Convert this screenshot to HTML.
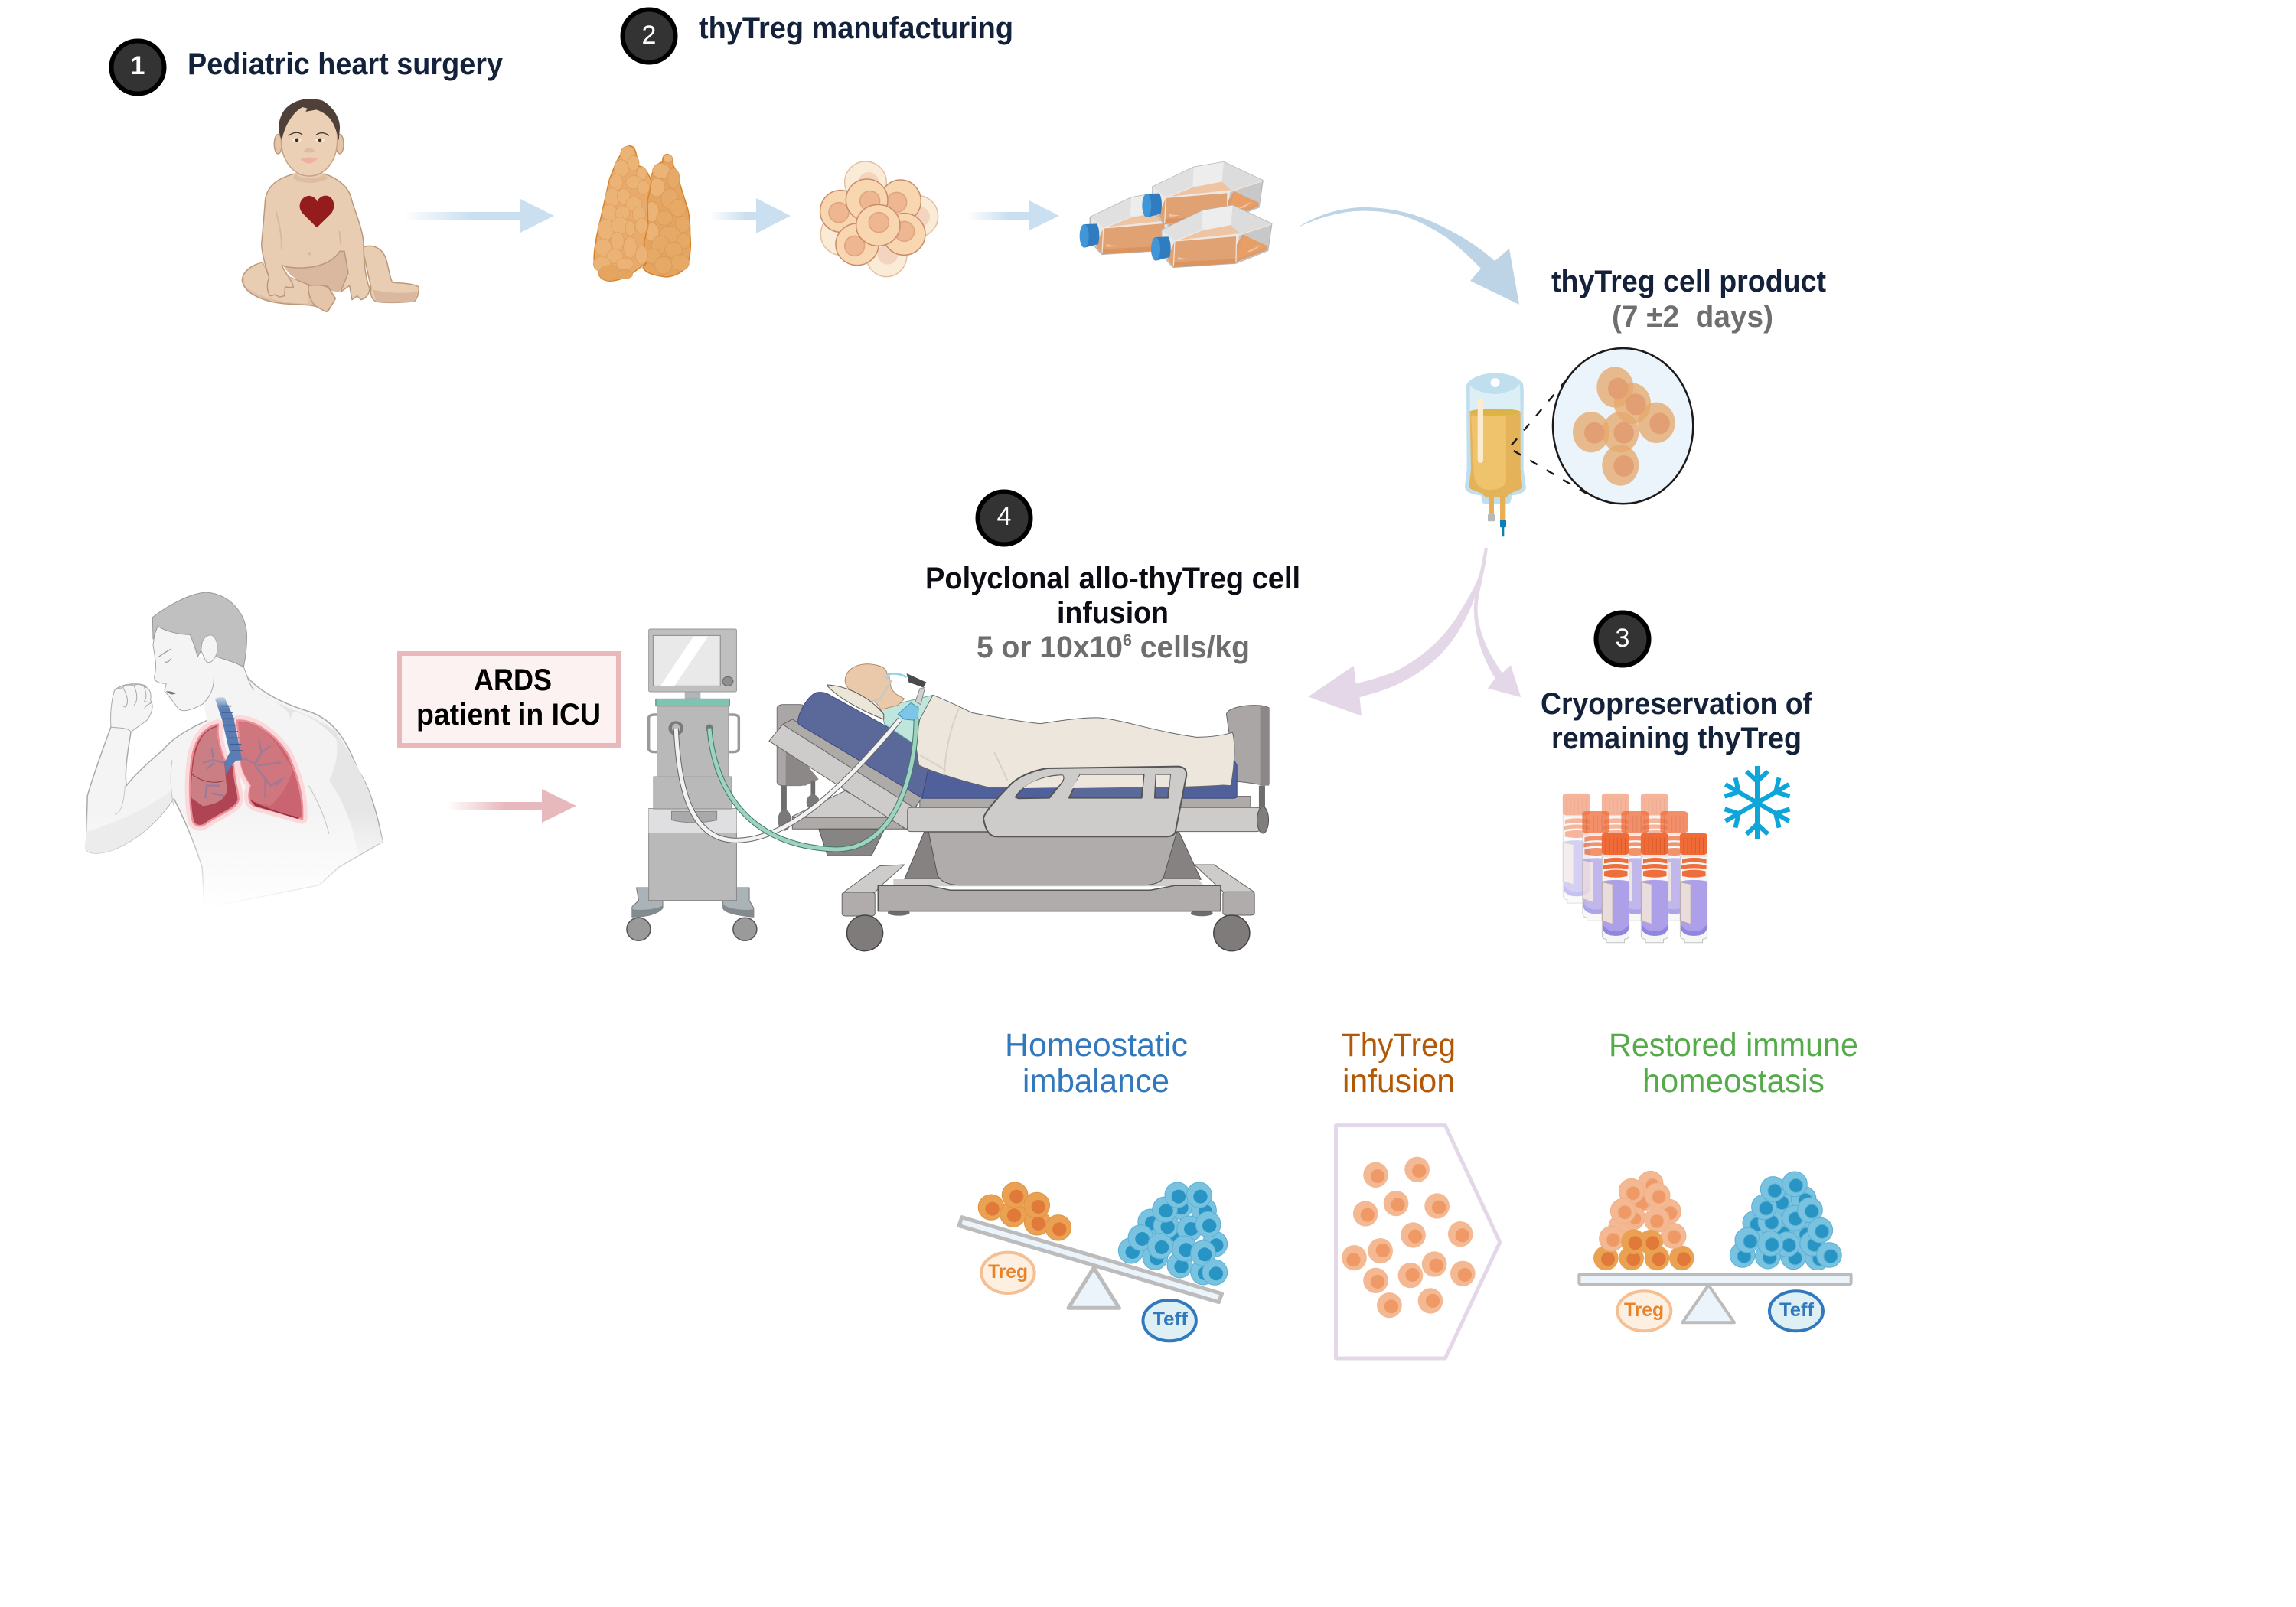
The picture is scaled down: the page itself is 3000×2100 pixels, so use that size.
<!DOCTYPE html>
<html><head><meta charset="utf-8"><style>
html,body{margin:0;padding:0;background:#fff;width:3000px;height:2100px;overflow:hidden}
svg{display:block}
svg *{vector-effect:non-scaling-stroke}
text{font-family:"Liberation Sans",sans-serif}
.h{font-weight:700;fill:#14213a;font-size:40px}
.g{font-weight:700;fill:#6e6e6e;font-size:40px}
.k{font-weight:700;fill:#000;font-size:40px}
.n{fill:#fff;font-size:34px;text-anchor:middle}
.r{font-size:43px}
.s{font-weight:700;font-size:25px}
</style></head><body>
<svg width="3000" height="2100" viewBox="0 0 3000 2100" xmlns="http://www.w3.org/2000/svg">
<defs>
<linearGradient id="aB" x1="0" x2="1" y1="0" y2="0"><stop offset="0" stop-color="#cadff0" stop-opacity="0"/><stop offset=".45" stop-color="#cadff0"/></linearGradient>
<linearGradient id="aR" x1="0" x2="1" y1="0" y2="0"><stop offset="0" stop-color="#e8b9bc" stop-opacity="0"/><stop offset=".45" stop-color="#e8b9bc"/></linearGradient>
<linearGradient id="fF" gradientUnits="userSpaceOnUse" x1="0" x2="0" y1="960" y2="1340"><stop offset="0" stop-color="#f4f4f4"/><stop offset="1" stop-color="#fff"/></linearGradient>
<linearGradient id="fD" gradientUnits="userSpaceOnUse" x1="0" x2="0" y1="960" y2="1250"><stop offset="0" stop-color="#e6e6e6"/><stop offset="1" stop-color="#fff"/></linearGradient>
<linearGradient id="fS" gradientUnits="userSpaceOnUse" x1="0" x2="0" y1="1000" y2="1340"><stop offset="0" stop-color="#aaa"/><stop offset="1" stop-color="#fff"/></linearGradient>
<linearGradient id="tr" gradientUnits="userSpaceOnUse" x1="0" x2="0" y1="405" y2="470"><stop offset="0" stop-color="#5a7eb3" stop-opacity="0"/><stop offset="1" stop-color="#5a7eb3"/></linearGradient>
<g id="flask">
<path d="M318,132 L480,55 L597,35 L750,107 L735,212 L610,262 L365,278 L345,258 L318,220Z" fill="#e8e8e8" stroke="#b5b5b5" stroke-width="1.5"/>
<path d="M318,132 L480,55 L475,130 L370,172Z" fill="#e0e0e0"/>
<path d="M480,55 L597,35 L590,115 L475,130Z" fill="#ededed"/>
<path d="M597,35 L750,107 L622,150 L590,115Z" fill="#dcdcdc"/>
<path d="M622,150 L748,108 L735,212 L610,262Z" fill="#c8c8c8"/>
<path d="M390,170 L475,135 L590,112 L625,145 L370,172Z" fill="#eec4a2"/>
<path d="M370,175 L612,155 L610,262 L365,277 L340,245Z" fill="#e0a272"/>
<path d="M368,258 L610,245 L610,262 L365,277Z" fill="#db9460"/>
<path d="M636,150 L735,195 L732,210 L610,258 L612,190Z" fill="#de9c6c"/>
<path d="M640,150 L735,198 L610,245Z" fill="#e89f66"/>
<path d="M370,175 L612,155 L748,110 M612,155 L610,260 M370,175 L365,275" stroke="#f5e6da" stroke-width="1.2" fill="none"/>
<path d="M382,238 Q405,245 428,243 Q400,250 382,248Z M655,215 Q680,205 705,190 Q690,210 660,218Z" fill="#f0c4a6"/>
<path d="M297,160 L345,158 Q360,190 350,238 L297,252Z" fill="#2f7cc0"/>
<ellipse cx="295" cy="206" rx="18" ry="46" fill="#4196d8"/>
</g>
<g id="vial">
<path d="M771,1090 V1400 Q771,1415 782,1415 V1428 H828 V1415 Q840,1415 840,1400 V1090Z" fill="#f6f6f6" stroke="#c4c4c4" stroke-width="1"/>
<rect x="770" y="1012" width="70" height="83" rx="10" fill="#ef6b38"/>
<path d="M780,1030V1090M790,1030V1090M800,1030V1090M810,1030V1090M820,1030V1090M830,1030V1090" stroke="#d95a2a" stroke-width="1" fill="none"/>
<rect x="771" y="1095" width="69" height="9" fill="#e8e4e2"/>
<path d="M776,1112 Q806,1100 838,1112 V1128 Q806,1118 776,1128Z M774,1135 Q806,1124 838,1135 V1150 Q806,1140 774,1150Z M776,1157 Q806,1146 836,1157 V1176 Q806,1186 776,1176Z" fill="#ee6f3d"/>
<path d="M772,1195 Q806,1185 840,1195 V1360 Q840,1402 806,1402 Q772,1402 772,1360Z" fill="#ada0e8"/>
<path d="M772,1355 Q780,1385 806,1385 Q832,1385 840,1355 V1365 Q840,1402 806,1402 Q772,1402 772,1365Z" fill="#8f86e2"/>
<path d="M771,1198 L798,1206 V1358 L771,1345Z" fill="#e9dcdc" stroke="#b5a7a7" stroke-width="1"/>
</g>
</defs>

<!-- step badges -->
<g fill="#333" stroke="#000" stroke-width="6">
<circle cx="180" cy="88" r="34.5"/><circle cx="848" cy="47" r="34.5"/><circle cx="1312" cy="677" r="34.5"/><circle cx="2120" cy="835" r="34.5"/>
</g>
<text class="n" x="180" y="97" font-weight="700">1</text><text class="n" x="848" y="57">2</text><text class="n" x="1312" y="686">4</text><text class="n" x="2120" y="845">3</text>

<!-- headings -->
<text class="h" x="245" y="97" textLength="412" lengthAdjust="spacingAndGlyphs">Pediatric heart surgery</text>
<text class="h" x="913" y="50" textLength="411" lengthAdjust="spacingAndGlyphs">thyTreg manufacturing</text>
<text class="h" x="2027" y="381" textLength="359" lengthAdjust="spacingAndGlyphs">thyTreg cell product</text>
<text class="g" x="2106" y="427" textLength="211" lengthAdjust="spacingAndGlyphs" xml:space="preserve">(7 ±2  days)</text>
<text class="h" x="1209" y="769" textLength="490" lengthAdjust="spacingAndGlyphs" style="fill:#0c0c14">Polyclonal allo-thyTreg cell</text>
<text class="h" x="1381" y="814" textLength="146" lengthAdjust="spacingAndGlyphs" style="fill:#0c0c14">infusion</text>
<text class="g" x="1276" y="859" textLength="357" lengthAdjust="spacingAndGlyphs">5 or 10x10<tspan dy="-15" font-size="22">6</tspan><tspan dy="15"> cells/kg</tspan></text>
<text class="h" x="2013" y="933" textLength="355" lengthAdjust="spacingAndGlyphs">Cryopreservation of</text>
<text class="h" x="2027" y="978" textLength="327" lengthAdjust="spacingAndGlyphs">remaining thyTreg</text>
<text class="r" x="1313" y="1380" textLength="239" lengthAdjust="spacingAndGlyphs" fill="#3278bd">Homeostatic</text>
<text class="r" x="1336" y="1427" textLength="192" lengthAdjust="spacingAndGlyphs" fill="#3278bd">imbalance</text>
<text class="r" x="1753" y="1380" textLength="149" lengthAdjust="spacingAndGlyphs" fill="#b35806">ThyTreg</text>
<text class="r" x="1754" y="1427" textLength="147" lengthAdjust="spacingAndGlyphs" fill="#b35806">infusion</text>
<text class="r" x="2102" y="1380" textLength="326" lengthAdjust="spacingAndGlyphs" fill="#55ab4a">Restored immune</text>
<text class="r" x="2146" y="1427" textLength="238" lengthAdjust="spacingAndGlyphs" fill="#55ab4a">homeostasis</text>

<!-- baby -->
<g transform="translate(300 120) scale(.3333)" stroke-linejoin="round">
<path d="M520,610 C560,595 600,610 615,660 C625,700 632,745 640,748 C680,750 720,752 742,765 C742,790 735,815 722,822 C680,825 620,830 575,822 C555,815 550,790 555,770 Z" fill="#e9cdb3" stroke="#bd9878" stroke-width="1.5"/>
<path d="M560,775 C620,790 690,790 738,785 L722,822 C680,825 620,830 575,822Z" fill="#d9b89f"/>
<path d="M200,670 L470,620 L470,720 L430,785 L320,770 L240,720Z" fill="#d9b89f"/>
<path d="M130,670 C70,680 45,720 50,745 C60,790 130,825 230,832 C290,835 340,835 360,850 L385,862 L415,810 L385,762 L320,760 L230,725 L150,720Z" fill="#dfbfa5" stroke="#bd9878" stroke-width="1.5"/>
<path d="M55,720 C90,680 115,675 130,670 L150,720 L230,725 L310,760 L310,830 C200,830 100,800 60,760Z" fill="#e9cdb3"/>
<path d="M250,322 C190,340 150,365 140,420 C135,490 130,540 125,600 C130,660 150,710 155,730 C145,750 145,785 160,800 L180,795 L195,805 L215,800 L218,765 L250,768 C248,740 215,710 205,680 C240,695 380,705 432,625 L450,625 L465,710 L435,785 L470,760 L480,815 L500,800 L515,815 C535,810 550,790 548,770 C530,720 525,660 525,590 C520,530 490,470 475,410 C460,365 420,340 375,322Z" fill="#e9cdb3" stroke="#bd9878" stroke-width="1.5"/>
<path d="M182,470 C195,520 205,560 204,620 M430,545 L436,600" stroke="#d9b89f" stroke-width="2" fill="none"/>
<path d="M310,760 C350,755 385,760 392,775 L415,810 C400,840 385,860 378,862 L345,845 C320,830 305,790 310,760Z" fill="#e4c5aa" stroke="#bd9878" stroke-width="1.5"/>
<ellipse cx="190" cy="205" rx="15" ry="38" fill="#e4c5aa" stroke="#bd9878" stroke-width="1.5"/>
<ellipse cx="432" cy="205" rx="15" ry="38" fill="#e4c5aa" stroke="#bd9878" stroke-width="1.5"/>
<path d="M255,322 C290,345 340,345 375,322 L385,340 C350,360 290,365 250,340Z" fill="#dcbea3"/>
<path d="M312,30 C380,30 425,100 422,195 C420,270 375,330 312,330 C250,330 205,270 202,195 C200,100 245,30 312,30Z" fill="#ebd0b6" stroke="#c7a284" stroke-width="1.5"/>
<path d="M205,190 C185,150 190,100 220,65 C260,25 320,20 365,35 C410,60 435,110 432,145 L428,190 C415,135 400,90 340,70 L298,78 L305,65 L285,60 C250,80 215,130 205,190Z" fill="#4f4039"/>
<path d="M230,172 Q262,150 285,168 M340,168 Q365,152 390,172" stroke="#3a2f2b" stroke-width="1.2" fill="none"/>
<ellipse cx="264" cy="189" rx="18" ry="7" fill="#f6ece2"/><circle cx="264" cy="189" r="7" fill="#3c2a22"/>
<ellipse cx="354" cy="189" rx="18" ry="7" fill="#f6ece2"/><circle cx="354" cy="189" r="7" fill="#3c2a22"/>
<path d="M290,232 Q313,245 335,232 L325,222 H300Z" fill="#dcbea3"/>
<path d="M278,262 Q312,252 345,262 Q325,282 312,280 Q295,282 278,262Z" fill="#eeb0a4"/>
<path d="M342,532 L285,475 C260,445 285,405 315,408 C330,410 340,420 343,430 C348,418 360,407 378,407 C405,408 420,445 400,475 Z" fill="#951c1c"/>
<ellipse cx="313" cy="634" rx="5" ry="7" fill="#d9b89f"/>
</g>

<!-- straight arrows -->
<path d="M527,277 H680 V260 L724,282 L680,304 V287 H527Z" fill="url(#aB)"/>
<path d="M927,277 H988 V259 L1033,282 L988,305 V287 H927Z" fill="url(#aB)"/>
<path d="M1263,277 H1345 V262 L1384,282 L1345,301 V287 H1263Z" fill="url(#aB)"/>
<path d="M583,1048 H708 V1031 L753,1053 L708,1075 V1058 H583Z" fill="url(#aR)"/>

<!-- thymus -->
<g transform="translate(760 170) scale(.3333)">
<path d="M335,95 C352,95 360,120 358,135 C375,170 390,230 410,290 C425,330 425,380 425,410 C430,450 425,500 415,530 C395,560 360,575 330,576 C290,570 255,565 240,540 L262,510 L245,460 C245,400 250,300 260,240 C270,170 290,130 318,125 C315,110 322,95 335,95Z" fill="#e5a45f" stroke="#d98328" stroke-width="1.5"/>
<g fill="#e7a966" stroke="#d9985a" stroke-width=".8">
<ellipse cx="338" cy="112" rx="18" ry="16" fill="#edb67d"/><ellipse cx="312" cy="160" rx="34" ry="30" fill="#ecb377"/><ellipse cx="360" cy="190" rx="24" ry="40"/><ellipse cx="295" cy="225" rx="32" ry="36" fill="#ecb377"/><ellipse cx="345" cy="270" rx="34" ry="40"/><ellipse cx="378" cy="305" rx="32" ry="34"/><ellipse cx="275" cy="320" rx="28" ry="40" fill="#ecb377"/><ellipse cx="325" cy="345" rx="32" ry="28"/><ellipse cx="395" cy="370" rx="28" ry="32"/><ellipse cx="345" cy="410" rx="42" ry="34"/><ellipse cx="275" cy="400" rx="28" ry="36" fill="#ecb377"/><ellipse cx="310" cy="450" rx="36" ry="36"/><ellipse cx="400" cy="435" rx="26" ry="30"/><ellipse cx="360" cy="470" rx="34" ry="32"/><ellipse cx="280" cy="495" rx="32" ry="30"/><ellipse cx="385" cy="520" rx="36" ry="32"/><ellipse cx="320" cy="530" rx="34" ry="34"/>
</g>
<path d="M185,62 C205,60 212,80 215,100 L225,142 C245,140 258,165 272,195 C275,220 262,250 258,280 L260,370 C260,400 240,430 245,465 C262,490 260,520 235,535 C205,555 170,590 110,592 C75,590 65,570 65,550 C45,530 45,500 55,440 C60,400 75,350 80,320 C90,280 100,230 110,190 C130,140 145,90 185,62 Z" fill="#e8ab6b" stroke="#d98328" stroke-width="1.5"/>
<g fill="#ecb377" stroke="#dd9f60" stroke-width=".8">
<ellipse cx="180" cy="95" rx="28" ry="32"/><ellipse cx="155" cy="150" rx="28" ry="34"/><ellipse cx="203" cy="130" rx="22" ry="30"/><ellipse cx="235" cy="170" rx="20" ry="26"/><ellipse cx="135" cy="205" rx="26" ry="32"/><ellipse cx="205" cy="205" rx="32" ry="26"/><ellipse cx="242" cy="225" rx="24" ry="28"/><ellipse cx="120" cy="265" rx="28" ry="38"/><ellipse cx="165" cy="260" rx="26" ry="30"/><ellipse cx="205" cy="290" rx="32" ry="28"/><ellipse cx="110" cy="325" rx="30" ry="34"/><ellipse cx="160" cy="325" rx="28" ry="28"/><ellipse cx="225" cy="330" rx="26" ry="30"/><ellipse cx="95" cy="390" rx="32" ry="42"/><ellipse cx="150" cy="375" rx="34" ry="34"/><ellipse cx="235" cy="375" rx="24" ry="30"/><ellipse cx="190" cy="385" rx="18" ry="30"/><ellipse cx="85" cy="460" rx="32" ry="34"/><ellipse cx="140" cy="435" rx="26" ry="36"/><ellipse cx="190" cy="460" rx="26" ry="42"/><ellipse cx="130" cy="495" rx="32" ry="28"/><ellipse cx="80" cy="525" rx="34" ry="30"/><ellipse cx="235" cy="490" rx="24" ry="36"/><ellipse cx="170" cy="525" rx="34" ry="24"/><ellipse cx="110" cy="560" rx="42" ry="30" fill="#e5a45f"/><ellipse cx="170" cy="565" rx="30" ry="18" fill="#e5a45f"/>
</g>
</g>

<!-- cell cluster -->
<g transform="translate(760 170) scale(.3333)" stroke-width="1.5">
<g fill="#faebd7" stroke="#e3c0a5">
<ellipse cx="1113" cy="205" rx="82" ry="82"/><ellipse cx="1315" cy="338" rx="82" ry="82"/><ellipse cx="1195" cy="490" rx="80" ry="85"/><ellipse cx="1020" cy="408" rx="83" ry="83"/>
</g>
<g fill="#f3d4bf"><circle cx="1125" cy="205" r="40"/><circle cx="1325" cy="340" r="40"/><circle cx="1200" cy="487" r="40"/></g>
<g stroke="#c98c6a"><g fill="#f7d6b0">
<ellipse cx="1250" cy="278" rx="80" ry="83"/></g><circle cx="1235" cy="283" r="39" fill="#eeb691" stroke="#dea37f"/>
<ellipse cx="1015" cy="318" rx="80" ry="82" fill="#f7d6b0"/><circle cx="1008" cy="323" r="39" fill="#eeb691" stroke="#dea37f"/>
<ellipse cx="1264" cy="408" rx="83" ry="82" fill="#f7d6b0"/><circle cx="1265" cy="397" r="39" fill="#eeb691" stroke="#dea37f"/>
<ellipse cx="1080" cy="448" rx="84" ry="82" fill="#f7d6b0"/><circle cx="1070" cy="454" r="39" fill="#eeb691" stroke="#dea37f"/>
<ellipse cx="1118" cy="274" rx="82" ry="82" fill="#f7d6b0"/><circle cx="1130" cy="278" r="39" fill="#eeb691" stroke="#dea37f"/>
<ellipse cx="1162" cy="373" rx="86" ry="81" fill="#f7d6b0"/><circle cx="1165" cy="362" r="39" fill="#eeb691" stroke="#dea37f"/>
</g></g>

<!-- flasks -->
<g transform="translate(1400 200) scale(.3333)">
<use href="#flask" transform="translate(-245 119)"/>
<use href="#flask"/>
<use href="#flask" transform="translate(35 170)"/>
</g>

<!-- big blue curved arrow -->
<path d="M1696,297 C1722,280 1755,270 1789,271 C1815,272 1840,277 1865,287 C1900,302 1930,320 1953,341 L1972,325 L1985,398 L1921,367 L1935,351 C1920,335 1905,322 1891,311 C1870,297 1850,287 1833,282 C1810,276 1790,275 1770,276 C1745,278 1720,286 1696,297Z" fill="#bdd3e6"/>

<!-- blood bag + inset -->
<g transform="translate(1900 440) scale(.3333)">
<path d="M160,142 C210,142 250,160 268,180 C275,195 272,230 272,300 L272,520 L282,590 C280,610 260,618 228,622 L220,650 C215,660 115,660 110,650 L105,622 C70,618 40,610 42,585 L50,520 L48,190 C55,165 110,142 160,142 Z" fill="#bfdfee"/>
<path d="M62,190 C80,215 140,225 160,225 C190,225 240,210 258,185 L260,295 L62,295 Z" fill="#ddeff6"/>
<circle cx="161" cy="180" r="18" fill="#fff"/>
<path d="M62,293 Q160,310 260,293 L260,520 L268,590 C260,605 230,600 205,630 L122,630 C110,605 65,605 58,590 L66,520 Z" fill="#e4b259"/>
<ellipse cx="160" cy="295" rx="100" ry="13" fill="#dcb445"/>
<path d="M66,310 Q140,312 204,308 L204,560 C204,590 170,600 140,600 C100,600 82,580 78,540 Z" fill="#eec36c"/>
<rect x="92" y="240" width="22" height="255" rx="11" fill="#fbeccf"/>
<rect x="136" y="630" width="20" height="66" fill="#e8b056"/><rect x="180" y="630" width="22" height="88" fill="#e8b056"/>
<rect x="132" y="696" width="27" height="28" rx="3" fill="#b8b8b8"/>
<rect x="180" y="718" width="24" height="30" rx="3" fill="#0f7fb3"/><rect x="186" y="746" width="10" height="38" rx="4" fill="#0f7fb3"/>
<ellipse cx="662" cy="350" rx="275" ry="305" fill="#ebf3fb" stroke="#1a1a1a" stroke-width="2.5"/>
<g fill="#e6a768" fill-opacity=".75"><ellipse cx="631" cy="198" rx="72" ry="80"/><ellipse cx="793" cy="337" rx="73" ry="80"/><ellipse cx="537" cy="374" rx="72" ry="80"/><ellipse cx="652" cy="504" rx="72" ry="80"/><ellipse cx="652" cy="374" rx="72" ry="80"/><ellipse cx="699" cy="262" rx="72" ry="80"/></g>
<g fill="#e09a70" fill-opacity=".85"><ellipse cx="643" cy="203" rx="40" ry="42"/><ellipse cx="712" cy="265" rx="40" ry="42"/><ellipse cx="806" cy="340" rx="40" ry="42"/><ellipse cx="550" cy="377" rx="40" ry="42"/><ellipse cx="665" cy="377" rx="40" ry="42"/><ellipse cx="665" cy="507" rx="40" ry="42"/></g>
<path d="M225,425 L435,175 M233,447 L545,630" stroke="#1a1a1a" stroke-width="2.4" stroke-dasharray="11 14" fill="none"/>
</g>

<!-- purple arrows + vials + snowflake -->
<g transform="translate(1700 740) scale(.5102 .3444)">
<path d="M470,-70 C465,30 445,80 400,190 C370,260 320,340 240,400 C205,420 170,435 140,445 L135,377 L18,495 L155,568 L150,497 C190,480 230,465 270,430 C330,385 380,310 410,230 C440,150 465,60 478,-70Z" fill="#e4d8e8"/>
<path d="M470,-70 C455,60 440,120 443,180 C445,270 470,360 497,425 L478,463 L563,497 L537,375 L515,405 C485,340 455,260 452,170 C450,110 470,40 478,-70Z" fill="#e4d8e8"/>
<g opacity=".5"><use href="#vial" x="-100" y="-150"/><use href="#vial" x="0" y="-150"/><use href="#vial" x="100" y="-150"/></g>
<g opacity=".75"><use href="#vial" x="-50" y="-83"/><use href="#vial" x="50" y="-83"/><use href="#vial" x="150" y="-83"/></g>
<use href="#vial"/><use href="#vial" x="100"/><use href="#vial" x="200"/>
</g>
<g transform="translate(2296 1049)" stroke="#0ea5d8" stroke-width="6" fill="none">
<g id="arm"><path d="M0,0V-48M-14,-41L0,-28L14,-41"/></g>
<use href="#arm" transform="rotate(60)"/><use href="#arm" transform="rotate(120)"/><use href="#arm" transform="rotate(180)"/><use href="#arm" transform="rotate(240)"/><use href="#arm" transform="rotate(300)"/>
</g>

<!-- man body -->
<g transform="translate(60 740) scale(.6378 .3333)" stroke-linejoin="round">
<path d="M345,440 L335,600 C300,630 260,670 240,720 C215,760 185,810 165,860 C160,800 170,700 175,640 C195,620 220,590 215,545 L205,470 C190,455 150,460 140,490 C138,540 138,600 135,620 C120,700 100,800 85,900 L82,1110 C90,1135 120,1125 140,1110 C190,1070 230,1000 262,910 C280,980 300,1060 320,1180 L325,1340 L560,1250 L600,1180 L690,1080 C680,980 665,870 640,800 C620,710 600,610 540,570 C470,530 420,470 400,400 Z" fill="url(#fF)" stroke="url(#fS)" stroke-width="1.5"/>
<path d="M590,640 C620,720 650,820 665,900 L690,1080 L640,1130 C630,1020 610,920 580,840 C600,760 600,700 590,640Z" fill="url(#fD)"/>
<path d="M85,960 L82,1110 C90,1135 120,1125 140,1110 C190,1070 230,1000 262,910 L255,880 C210,950 150,1000 85,1040Z" fill="#ececec"/>
</g>
<g transform="translate(120 770) scale(.3333)" stroke-linejoin="round">
<path d="M315,670 C305,730 310,810 322,850 M850,770 C880,820 910,880 930,960 M130,770 C125,850 110,880 90,882" stroke="#c4c4c4" stroke-width="1" fill="none"/>
<path d="M620,380 C640,410 700,430 770,465 C790,475 860,490 960,560 V590 C900,520 820,480 790,480 L775,515 C790,470 700,430 640,400Z" fill="#e4e4e4"/>
<path d="M250,148 L240,220 C250,280 255,300 245,345 C245,365 275,372 292,368 L285,400 C300,415 315,435 340,470 C360,485 400,470 435,450 C450,485 445,500 455,520 L560,490 L620,380 L595,305 L490,265 L415,265 L385,175 Z" fill="#f4f4f4"/>
<path d="M250,148 L240,220 C250,280 255,300 245,345 C245,365 275,372 292,368 L285,400 C300,415 315,435 340,470 C360,485 400,470 435,450 C475,410 480,370 478,340 M595,305 C610,340 615,370 635,395" stroke="#a6a6a6" stroke-width="1" fill="none"/>
<path d="M238,110 C290,70 380,15 450,12 C540,20 600,90 607,170 C610,230 600,280 595,305 C560,285 520,275 490,265 L480,250 C495,220 490,190 465,180 C440,180 425,210 428,240 L415,265 C405,230 395,200 385,178 C340,178 290,165 258,145 L240,195 Z" fill="#c0c0c0" stroke="#999" stroke-width="1"/>
<path d="M430,225 C430,195 450,178 470,180 C490,190 495,220 490,250 C480,280 465,292 450,285 C440,270 435,255 428,240Z" fill="#f4f4f4" stroke="#aaa" stroke-width="1"/>
<path d="M262,265 Q290,245 310,235 M285,285 Q300,290 312,270" stroke="#999" stroke-width="1.2" fill="none"/>
<path d="M290,400 Q310,398 330,408 Q318,416 305,410Z" fill="#777"/>
<path d="M75,540 C70,480 80,420 90,395 C105,385 115,390 122,385 C135,370 155,375 165,378 C180,368 195,375 205,382 C225,385 235,405 230,435 C245,455 235,490 215,515 C190,535 160,550 155,560 C140,540 100,545 75,540Z" fill="#f4f4f4" stroke="#aaa" stroke-width="1"/>
<path d="M122,385 C135,410 150,445 130,462 L118,455 M165,378 C180,410 180,440 165,455 M205,382 C215,410 215,430 205,440 M205,440 L235,445 L215,455 L205,470" stroke="#aaa" stroke-width="1" fill="none"/>
<!-- lungs -->
<path d="M495,530 C440,540 400,590 390,680 C380,760 385,860 395,905 C400,925 420,935 445,920 C490,885 570,860 575,825 C575,790 560,770 555,690 L520,670 C500,620 490,570 495,530Z M570,515 C640,510 720,570 770,650 C810,740 830,820 825,900 C780,890 700,865 640,850 C615,840 610,810 625,770 C610,745 590,720 585,680 L580,650 C585,600 570,550 570,515Z" fill="#fbd9db" stroke="#fbd9db" stroke-width="13"/>
<path d="M495,530 C440,540 400,590 390,680 C380,760 385,860 395,905 C400,925 420,935 445,920 C490,885 570,860 575,825 C575,790 560,770 555,690 L520,670 C500,620 490,570 495,530Z" fill="#af4454" stroke="#ec8f99" stroke-width="2.5"/>
<path d="M490,540 C440,550 410,600 397,690 C390,740 388,800 392,820 L435,850 C480,845 520,830 530,790 L520,690 C500,620 485,590 490,540Z" fill="#cb7f85"/>
<path d="M392,725 C430,755 480,765 520,750" stroke="#8a3a48" stroke-width="1" fill="none"/>
<path d="M570,515 C640,510 720,570 770,650 C810,740 830,820 825,900 C780,890 700,865 640,850 C615,840 610,810 625,770 C610,745 590,720 585,680 L580,650 C585,600 570,550 570,515Z" fill="#c96470" stroke="#ec8f99" stroke-width="2.5"/>
<path d="M575,520 C640,515 700,560 745,640 C775,690 790,700 787,710 C770,770 740,810 700,850 L640,835 C615,825 615,790 625,770 C610,745 590,720 585,680 L580,650 C585,600 575,550 575,520Z" fill="#d0767e"/>
<path d="M620,825 C680,860 760,880 815,895 L805,900 C760,885 690,865 640,850Z" fill="#9e3040"/>
<path d="M590,660 L640,685 L665,640 L655,590 M665,640 L700,615 M640,690 L700,770 L745,745 M680,745 L680,820 M650,690 L740,680 M720,770 L750,740 M520,680 L475,670 L435,680 M475,660 L470,620 M480,680 L450,705 M505,770 L450,770 L445,820 M470,800 L520,810" stroke="#9c7b96" stroke-width="2.5" fill="none"/>
<path d="M483,430 Q500,420 520,425 L555,500 L585,650 L590,670 L565,672 L545,695 L525,725 L520,680 L540,640 L510,510Z" fill="url(#tr)"/>
<path d="M492,458 L537,458 M499,483 L544,483 M505,508 L550,508 M512,533 L557,533 M518,558 L563,558 M525,583 L570,583 M531,608 L576,608 M538,633 L583,633" stroke="#3c5d90" stroke-width="1.5" fill="none" transform="translate(10 0)"/>
</g>

<!-- ARDS box -->
<rect x="522" y="854" width="286" height="120" fill="#fdf2f2" stroke="#e8b8bb" stroke-width="6"/>
<text class="k" x="619" y="902" textLength="102" lengthAdjust="spacingAndGlyphs">ARDS</text>
<text class="k" x="544" y="947" textLength="241" lengthAdjust="spacingAndGlyphs">patient in ICU</text>

<!-- bed -->
<g transform="translate(800 800) scale(.574 .3333)" stroke-linejoin="round">
<rect x="375" y="362" width="65" height="318" rx="14" fill="#a9a6a5" stroke="#777" stroke-width="1"/>
<path d="M395,500 L470,655 L440,680 L395,680Z" fill="#8b8887"/>
<rect x="385" y="680" width="12" height="110" fill="#6e6c6c"/><rect x="452" y="660" width="10" height="100" fill="#6e6c6c"/>
<ellipse cx="392" cy="815" rx="15" ry="42" fill="#7a7878"/><ellipse cx="457" cy="745" rx="15" ry="30" fill="#7a7878"/>
<path d="M1398,400 C1400,365 1480,355 1495,375 L1495,675 C1490,685 1430,660 1420,665 L1398,400Z" fill="#a9a6a5" stroke="#666" stroke-width="1"/>
<path d="M1475,368 L1495,375 V680 L1475,680Z" fill="#8a8786"/>
<rect x="1472" y="680" width="14" height="95" fill="#6e6c6c"/>
<path d="M410,800 L530,700 L650,810 L410,810Z" fill="#cfcdcc" stroke="#666" stroke-width="1"/>
<path d="M410,805 L640,805 L665,850 L410,850Z" fill="#aeaaa8" stroke="#666" stroke-width="1"/>
<path d="M470,850 L620,850 L590,955 L490,955Z" fill="#878584" stroke="#555" stroke-width="1"/>
<ellipse cx="652" cy="1178" rx="25" ry="12" fill="#6e6c6c"/><ellipse cx="1342" cy="1180" rx="25" ry="12" fill="#6e6c6c"/>
<path d="M710,862 L1290,862 L1340,1048 L665,1048Z" fill="#858281" stroke="#555" stroke-width="1"/>
<path d="M640,1047 L1335,1047 L1348,1075 L640,1075Z" fill="#d0cecd"/>
<path d="M720,862 L1285,862 L1255,1040 C1250,1060 1230,1070 1210,1070 L790,1070 C760,1070 745,1050 740,1030Z" fill="#b0acab" stroke="#555" stroke-width="1"/>
<path d="M525,1100 L608,995 L665,990 L610,1075 L597,1100Z" fill="#cecccb" stroke="#666" stroke-width="1"/>
<path d="M1325,990 L1370,990 L1462,1098 L1392,1098 Z" fill="#cecccb" stroke="#666" stroke-width="1"/>
<path d="M605,1072 L720,1072 L770,1090 L1225,1090 L1280,1072 L1385,1072 L1385,1172 L605,1172Z" fill="#b0acab" stroke="#555" stroke-width="1.5"/>
<rect x="523" y="1098" width="75" height="93" rx="8" fill="#b0acab" stroke="#666" stroke-width="1"/>
<rect x="1390" y="1096" width="72" height="92" rx="8" fill="#b0acab" stroke="#666" stroke-width="1"/>
<ellipse cx="575" cy="1258" rx="41" ry="70" fill="#7e7b7a" stroke="#444" stroke-width="1.5"/>
<ellipse cx="1410" cy="1258" rx="41" ry="70" fill="#7e7b7a" stroke="#444" stroke-width="1.5"/>
<rect x="700" y="722" width="753" height="46" fill="#aeaaa8" stroke="#666" stroke-width="1"/>
<path d="M388,440 L357,505 L670,852 L690,768 L700,735 L410,420 Z" fill="#cecccb" stroke="#666" stroke-width="1"/>
<path d="M410,420 L705,728 L688,768 L388,440Z" fill="#aeaaa8" stroke="#666" stroke-width="1"/>
<rect x="672" y="766" width="803" height="94" rx="8" fill="#cecccb" stroke="#666" stroke-width="1"/>
<ellipse cx="1481" cy="815" rx="13" ry="52" fill="#807d7c" stroke="#555" stroke-width="1"/>
<path d="M720,610 L1412,570 L1422,600 L1422,722 Q1422,730 1410,730 L705,730Z" fill="#4f609a" stroke="#3c4a80" stroke-width="1"/>
<path d="M465,315 C475,312 485,315 490,320 L700,520 L720,610 L705,728 L425,440 C415,425 440,330 465,315Z" fill="#5b689a" stroke="#3c4a80" stroke-width="1"/>
<path d="M610,375 L670,350 L730,325 L700,440 L690,520 L620,440Z" fill="#bfe6dc" stroke="#6aa89a" stroke-width="1"/>
<path d="M580,203 C610,205 625,220 625,240 L630,245 L635,300 L645,320 L665,340 L650,365 L612,382 L600,355 C560,340 530,300 530,270 C530,230 550,205 580,203 Z" fill="#e9c9a9" stroke="#b38d6e" stroke-width="1"/>
<path d="M490,285 C540,290 590,340 618,400 L618,420 C580,395 520,345 490,290Z" fill="#ece6d8" stroke="#555" stroke-width="1"/>
<path d="M730,325 C760,345 790,370 820,395 C870,410 930,430 975,437 C1020,425 1070,412 1110,414 C1170,425 1240,470 1330,490 C1370,490 1395,480 1412,472 C1420,520 1415,620 1408,680 L1390,678 C1300,690 1100,690 860,688 C790,660 720,620 698,600 L690,510 L700,420 L730,325 Z" fill="#ece6dc" stroke="#666" stroke-width="1"/>
<path d="M790,375 C770,450 760,530 755,640 M870,550 L900,660 M700,560 L760,620" stroke="#d8d2c6" stroke-width="2" fill="none"/>
<path d="M690,350 L700,300 L712,295 L702,362Z" fill="#d0d0d0" stroke="#888" stroke-width="1"/>
<path d="M670,240 L715,275 L708,295 L675,275Z" fill="#4a4a4a"/>
<path d="M625,245 Q650,235 670,255" stroke="#8fd4e8" stroke-width="2.5" fill="none"/>
<path d="M620,250 L635,270 L610,340 L590,350" stroke="#c7c7c7" stroke-width="2.5" fill="none"/>
<path d="M650,400 L680,355 L697,375 L695,425 L665,420Z" fill="#7cc6e8" stroke="#4d93b8" stroke-width="1"/>
<path d="M990,612 L1290,605 C1305,610 1307,620 1307,640 L1282,860 C1280,875 1270,880 1260,880 L875,880 C860,880 850,860 845,810 C845,790 870,740 910,670 C930,640 960,620 990,612Z" fill="#cecccb" stroke="#555" stroke-width="2"/>
<path d="M918,725 C930,690 970,640 1025,640 C1030,650 1025,665 1020,675 L995,728 L925,730Z" fill="#4f609a" stroke="#555" stroke-width="2"/>
<path d="M936,690 C950,665 985,642 1025,640 C1030,650 1025,665 1012,688Z" fill="#ece6dc"/>
<path d="M1065,637 L1210,637 L1205,728 L1040,728 Z" fill="#5b689a" stroke="#555" stroke-width="2"/>
<path d="M1065,638 L1209,638 L1207,686 L1047,690Z" fill="#ece6dc"/>
<path d="M1238,637 L1270,637 L1265,728 L1235,728Z" fill="#5b689a" stroke="#555" stroke-width="2"/>
<path d="M1238,638 L1270,638 L1268,686 L1237,686Z" fill="#ece6dc"/>
</g>

<!-- ventilator -->
<g transform="translate(800 800) scale(.574 .3333)" stroke-linejoin="round">
<path d="M55,1080 L90,1080 L90,1130 L115,1130 L115,1160 C100,1190 70,1195 45,1195 L45,1155 L60,1130 Z" fill="#aab3b8" stroke="#777" stroke-width="1"/>
<path d="M45,1165 C70,1170 100,1165 115,1150 V1160 C100,1190 70,1195 45,1195Z" fill="#848b8e"/>
<path d="M280,1080 L312,1080 L312,1130 L322,1160 L322,1195 C290,1190 255,1180 252,1160 L252,1130 L280,1130Z" fill="#aab3b8" stroke="#777" stroke-width="1"/>
<path d="M252,1145 C265,1165 300,1170 322,1165 V1195 C290,1190 255,1180 252,1160Z" fill="#848b8e"/>
<ellipse cx="60" cy="1243" rx="27" ry="45" fill="#9a9a9a" stroke="#555" stroke-width="1.5"/>
<ellipse cx="302" cy="1243" rx="27" ry="45" fill="#9a9a9a" stroke="#555" stroke-width="1.5"/>
<rect x="83" y="770" width="200" height="360" fill="#b9b9b9" stroke="#888" stroke-width="1"/>
<rect x="83" y="771" width="200" height="95" fill="#dfdfe1"/>
<path d="M135,781 L238,781 L238,815 Q185,835 135,815Z" fill="#a9a9a9" stroke="#888" stroke-width="1"/>
<rect x="94" y="645" width="178" height="126" fill="#b9b9b9" stroke="#888" stroke-width="1"/>
<rect x="83" y="402" width="205" height="146" rx="12" fill="none" stroke="#9a9a9a" stroke-width="3.5"/>
<rect x="102" y="368" width="163" height="278" fill="#b9b9b9" stroke="#888" stroke-width="1"/>
<rect x="165" y="312" width="36" height="30" fill="#adb6b9"/>
<rect x="99" y="340" width="168" height="28" fill="#7cc5b3" stroke="#666" stroke-width="1"/>
<rect x="83" y="66" width="200" height="246" rx="4" fill="#bfbfbf" stroke="#999" stroke-width="1"/>
<rect x="93" y="91" width="153" height="198" fill="#e9e9e9" stroke="#888" stroke-width="1"/>
<path d="M110,288 L185,95 L218,95 L142,288Z" fill="#fff"/>
<ellipse cx="263" cy="271" rx="12" ry="18" fill="#8e8e8e" stroke="#666" stroke-width="1"/>
<ellipse cx="145" cy="455" rx="17" ry="28" fill="#7a7a7a"/><ellipse cx="145" cy="455" rx="9" ry="18" fill="#bbb"/>
<ellipse cx="221" cy="455" rx="8" ry="16" fill="#6f7a76"/>
<path d="M145,455 C150,650 170,900 285,895 C400,890 520,700 655,420" stroke="#666" stroke-width="7" fill="none"/>
<path d="M145,455 C150,650 170,900 285,895 C400,890 520,700 655,420" stroke="#f2f2f2" stroke-width="5" fill="none"/>
<path d="M221,455 C230,650 290,920 510,930 C640,930 690,650 692,420" stroke="#3f7a68" stroke-width="7" fill="none"/>
<path d="M221,455 C230,650 290,920 510,930 C640,930 690,650 692,420" stroke="#9fd3c1" stroke-width="5" fill="none"/>
</g>

<!-- balance 1 -->
<g transform="translate(1220 1340) scale(.5102 .3333)" stroke-linejoin="round">
<path d="M410,950 L475,1108 L345,1108Z" fill="#ebf3fb" stroke="#bcbcbc" stroke-width="5"/>
<path d="M72,752 L738,1052 L730,1085 L65,785 Z" fill="#ebf3fb" stroke="#bcbcbc" stroke-width="5"/>
<ellipse cx="190" cy="970" rx="68" ry="80" fill="#fdf0e1" stroke="#f5bf94" stroke-width="4"/>
<ellipse cx="604" cy="1157" rx="68" ry="80" fill="#dff0f5" stroke="#3278bd" stroke-width="4"/>
<g fill="#eaa252" stroke="#e09244" stroke-width="1"><ellipse cx="147" cy="713" rx="33" ry="50"/><ellipse cx="203" cy="740" rx="33" ry="50"/><ellipse cx="265" cy="772" rx="33" ry="50"/><ellipse cx="208" cy="665" rx="33" ry="50"/><ellipse cx="264" cy="705" rx="33" ry="50"/><ellipse cx="319" cy="793" rx="33" ry="50"/></g>
<g fill="#e0793a"><ellipse cx="150" cy="719" rx="18" ry="27"/><ellipse cx="206" cy="745" rx="18" ry="27"/><ellipse cx="268" cy="777" rx="18" ry="27"/><ellipse cx="212" cy="671" rx="18" ry="27"/><ellipse cx="268" cy="711" rx="18" ry="27"/><ellipse cx="322" cy="799" rx="18" ry="27"/></g>
<g>
<g><ellipse cx="555" cy="770" rx="32" ry="50" fill="#79c3e0" stroke="#5ab0d6"/><ellipse cx="559" cy="775" rx="18" ry="27" fill="#2794c3"/></g>
<g><ellipse cx="630" cy="710" rx="32" ry="50" fill="#79c3e0" stroke="#5ab0d6"/><ellipse cx="634" cy="715" rx="18" ry="27" fill="#2794c3"/></g>
<g><ellipse cx="692" cy="725" rx="32" ry="50" fill="#79c3e0" stroke="#5ab0d6"/><ellipse cx="696" cy="730" rx="18" ry="27" fill="#2794c3"/></g>
<g><ellipse cx="620" cy="820" rx="32" ry="50" fill="#79c3e0" stroke="#5ab0d6"/><ellipse cx="624" cy="825" rx="18" ry="27" fill="#2794c3"/></g>
<g><ellipse cx="720" cy="857" rx="32" ry="50" fill="#79c3e0" stroke="#5ab0d6"/><ellipse cx="724" cy="862" rx="18" ry="27" fill="#2794c3"/></g>
<g><ellipse cx="505" cy="883" rx="32" ry="50" fill="#79c3e0" stroke="#5ab0d6"/><ellipse cx="509" cy="888" rx="18" ry="27" fill="#2794c3"/></g>
<g><ellipse cx="567" cy="908" rx="32" ry="50" fill="#79c3e0" stroke="#5ab0d6"/><ellipse cx="571" cy="913" rx="18" ry="27" fill="#2794c3"/></g>
<g><ellipse cx="630" cy="940" rx="32" ry="50" fill="#79c3e0" stroke="#5ab0d6"/><ellipse cx="634" cy="945" rx="18" ry="27" fill="#2794c3"/></g>
<g><ellipse cx="690" cy="967" rx="32" ry="50" fill="#79c3e0" stroke="#5ab0d6"/><ellipse cx="694" cy="972" rx="18" ry="27" fill="#2794c3"/></g>
<g><ellipse cx="595" cy="785" rx="32" ry="50" fill="#79c3e0" stroke="#5ab0d6"/><ellipse cx="599" cy="790" rx="18" ry="27" fill="#2794c3"/></g>
<g><ellipse cx="655" cy="797" rx="32" ry="50" fill="#79c3e0" stroke="#5ab0d6"/><ellipse cx="659" cy="798" rx="18" ry="27" fill="#2794c3"/></g>
<g><ellipse cx="530" cy="832" rx="32" ry="50" fill="#79c3e0" stroke="#5ab0d6"/><ellipse cx="534" cy="837" rx="18" ry="27" fill="#2794c3"/></g>
<g><ellipse cx="642" cy="875" rx="32" ry="50" fill="#79c3e0" stroke="#5ab0d6"/><ellipse cx="646" cy="880" rx="18" ry="27" fill="#2794c3"/></g>
<g><ellipse cx="580" cy="865" rx="32" ry="50" fill="#79c3e0" stroke="#5ab0d6"/><ellipse cx="584" cy="870" rx="18" ry="27" fill="#2794c3"/></g>
<g><ellipse cx="690" cy="893" rx="32" ry="50" fill="#79c3e0" stroke="#5ab0d6"/><ellipse cx="694" cy="898" rx="18" ry="27" fill="#2794c3"/></g>
<g><ellipse cx="592" cy="722" rx="32" ry="50" fill="#79c3e0" stroke="#5ab0d6"/><ellipse cx="595" cy="727" rx="18" ry="27" fill="#2794c3"/></g>
<g><ellipse cx="703" cy="780" rx="32" ry="50" fill="#79c3e0" stroke="#5ab0d6"/><ellipse cx="706" cy="785" rx="18" ry="27" fill="#2794c3"/></g>
<g><ellipse cx="624" cy="665" rx="32" ry="50" fill="#79c3e0" stroke="#5ab0d6"/><ellipse cx="627" cy="671" rx="18" ry="27" fill="#2794c3"/></g>
<g><ellipse cx="680" cy="665" rx="32" ry="50" fill="#79c3e0" stroke="#5ab0d6"/><ellipse cx="683" cy="671" rx="18" ry="27" fill="#2794c3"/></g>
<g><ellipse cx="720" cy="968" rx="32" ry="50" fill="#79c3e0" stroke="#5ab0d6"/><ellipse cx="723" cy="973" rx="18" ry="27" fill="#2794c3"/></g>
</g>
<path d="M1030,392 L1310,392 L1450,850 L1310,1305 L1030,1305 Z" fill="#fff" stroke="#e4d8e8" stroke-width="5"/>
<g fill="#f4b992"><ellipse cx="1132" cy="586" rx="32" ry="50"/><ellipse cx="1238" cy="565" rx="32" ry="50"/><ellipse cx="1106" cy="738" rx="32" ry="50"/><ellipse cx="1184" cy="698" rx="32" ry="50"/><ellipse cx="1289" cy="708" rx="32" ry="50"/><ellipse cx="1228" cy="822" rx="32" ry="50"/><ellipse cx="1349" cy="818" rx="32" ry="50"/><ellipse cx="1077" cy="911" rx="32" ry="50"/><ellipse cx="1144" cy="884" rx="32" ry="50"/><ellipse cx="1132" cy="1000" rx="32" ry="50"/><ellipse cx="1221" cy="980" rx="32" ry="50"/><ellipse cx="1282" cy="936" rx="32" ry="50"/><ellipse cx="1355" cy="973" rx="32" ry="50"/><ellipse cx="1167" cy="1097" rx="32" ry="50"/><ellipse cx="1272" cy="1080" rx="32" ry="50"/></g>
<g fill="#ef9a66"><ellipse cx="1137" cy="591" rx="18" ry="27"/><ellipse cx="1243" cy="570" rx="18" ry="27"/><ellipse cx="1111" cy="743" rx="18" ry="27"/><ellipse cx="1189" cy="703" rx="18" ry="27"/><ellipse cx="1294" cy="713" rx="18" ry="27"/><ellipse cx="1233" cy="827" rx="18" ry="27"/><ellipse cx="1354" cy="823" rx="18" ry="27"/><ellipse cx="1075" cy="919" rx="18" ry="27"/><ellipse cx="1150" cy="882" rx="18" ry="27"/><ellipse cx="1137" cy="1005" rx="18" ry="27"/><ellipse cx="1226" cy="978" rx="18" ry="27"/><ellipse cx="1287" cy="941" rx="18" ry="27"/><ellipse cx="1360" cy="978" rx="18" ry="27"/><ellipse cx="1172" cy="1102" rx="18" ry="27"/><ellipse cx="1278" cy="1080" rx="18" ry="27"/></g>
</g>
<text class="s" x="1291" y="1670" textLength="52" lengthAdjust="spacingAndGlyphs" fill="#e8832a">Treg</text>
<text class="s" x="1506" y="1732" textLength="46" lengthAdjust="spacingAndGlyphs" fill="#3278bd">Teff</text>

<!-- balance 2 -->
<g transform="translate(2020 1340) scale(.3333)" stroke-linejoin="round">
<path d="M637,1018 L738,1165 L535,1165Z" fill="#ebf3fb" stroke="#bcbcbc" stroke-width="4"/>
<rect x="130" y="975" width="1066" height="39" rx="4" fill="#ebf3fb" stroke="#bcbcbc" stroke-width="4"/>
<ellipse cx="385" cy="1120" rx="105" ry="78" fill="#fdf0e1" stroke="#f5bf94" stroke-width="4"/>
<ellipse cx="981" cy="1120" rx="105" ry="78" fill="#dff0f5" stroke="#3278bd" stroke-width="4"/>
<g><circle cx="235" cy="912" r="49" fill="#eaa252"/><circle cx="243" cy="916" r="27" fill="#e0793a"/><circle cx="335" cy="912" r="49" fill="#eaa252"/><circle cx="343" cy="916" r="27" fill="#e0793a"/><circle cx="435" cy="912" r="49" fill="#eaa252"/><circle cx="443" cy="916" r="27" fill="#e0793a"/><circle cx="532" cy="912" r="49" fill="#eaa252"/><circle cx="540" cy="916" r="27" fill="#e0793a"/></g>
<g stroke="#eeb08a" stroke-width="1">
<circle cx="295" cy="790" r="49" fill="#f4b992"/><circle cx="345" cy="760" r="40" fill="#f4b992"/><circle cx="375" cy="680" r="49" fill="#f4b992"/><circle cx="377" cy="697" r="27" fill="#ef9a66"/>
<circle cx="410" cy="620" r="49" fill="#f4b992"/><circle cx="418" cy="627" r="27" fill="#ef9a66"/>
<circle cx="335" cy="650" r="49" fill="#f4b992"/><circle cx="342" cy="658" r="27" fill="#ef9a66"/>
<circle cx="480" cy="730" r="49" fill="#f4b992"/><circle cx="488" cy="735" r="27" fill="#ef9a66"/>
<circle cx="500" cy="825" r="49" fill="#f4b992"/><circle cx="503" cy="829" r="27" fill="#ef9a66"/>
<circle cx="350" cy="750" r="38" fill="#f4b992"/><circle cx="350" cy="758" r="24" fill="#ef9a66"/>
<circle cx="435" cy="762" r="49" fill="#f4b992"/><circle cx="435" cy="768" r="27" fill="#ef9a66"/>
<circle cx="302" cy="728" r="49" fill="#f4b992"/><circle cx="309" cy="733" r="27" fill="#ef9a66"/>
<circle cx="437" cy="667" r="49" fill="#f4b992"/><circle cx="443" cy="672" r="27" fill="#ef9a66"/>
<circle cx="258" cy="836" r="49" fill="#f4b992"/><circle cx="264" cy="841" r="27" fill="#ef9a66"/>
</g>
<circle cx="410" cy="850" r="49" fill="#eaa252"/><circle cx="418" cy="853" r="27" fill="#e0793a"/>
<circle cx="343" cy="848" r="49" fill="#eaa252"/><circle cx="350" cy="853" r="27" fill="#e0793a"/>
<g stroke="#5ab0d6" stroke-width="1">
<circle cx="770" cy="900" r="49" fill="#79c3e0"/><circle cx="777" cy="905" r="27" fill="#2794c3"/>
<circle cx="870" cy="905" r="49" fill="#79c3e0"/><circle cx="877" cy="910" r="27" fill="#2794c3"/>
<circle cx="970" cy="907" r="49" fill="#79c3e0"/><circle cx="977" cy="912" r="27" fill="#2794c3"/>
<circle cx="1065" cy="910" r="49" fill="#79c3e0"/><circle cx="1072" cy="915" r="27" fill="#2794c3"/>
<circle cx="820" cy="775" r="49" fill="#79c3e0"/><circle cx="827" cy="780" r="27" fill="#2794c3"/>
<circle cx="925" cy="695" r="49" fill="#79c3e0"/><circle cx="925" cy="695" r="27" fill="#2794c3"/>
<circle cx="1010" cy="680" r="49" fill="#79c3e0"/><circle cx="1017" cy="685" r="27" fill="#2794c3"/>
<circle cx="930" cy="810" r="49" fill="#79c3e0"/><circle cx="930" cy="815" r="27" fill="#2794c3"/>
<circle cx="1020" cy="815" r="49" fill="#79c3e0"/><circle cx="1020" cy="820" r="27" fill="#2794c3"/>
<circle cx="880" cy="770" r="49" fill="#79c3e0"/><circle cx="885" cy="772" r="27" fill="#2794c3"/>
<circle cx="975" cy="755" r="49" fill="#79c3e0"/><circle cx="978" cy="758" r="27" fill="#2794c3"/>
<circle cx="1045" cy="855" r="49" fill="#79c3e0"/><circle cx="1052" cy="860" r="27" fill="#2794c3"/>
<circle cx="790" cy="842" r="49" fill="#79c3e0"/><circle cx="801" cy="847" r="27" fill="#2794c3"/>
<circle cx="945" cy="858" r="49" fill="#79c3e0"/><circle cx="953" cy="862" r="27" fill="#2794c3"/>
<circle cx="880" cy="855" r="49" fill="#79c3e0"/><circle cx="886" cy="860" r="27" fill="#2794c3"/>
<circle cx="855" cy="712" r="49" fill="#79c3e0"/><circle cx="863" cy="717" r="27" fill="#2794c3"/>
<circle cx="890" cy="642" r="49" fill="#79c3e0"/><circle cx="897" cy="648" r="27" fill="#2794c3"/>
<circle cx="975" cy="622" r="49" fill="#79c3e0"/><circle cx="980" cy="628" r="27" fill="#2794c3"/>
<circle cx="1035" cy="724" r="49" fill="#79c3e0"/><circle cx="1042" cy="729" r="27" fill="#2794c3"/>
<circle cx="1075" cy="803" r="49" fill="#79c3e0"/><circle cx="1082" cy="808" r="27" fill="#2794c3"/>
<circle cx="1110" cy="900" r="49" fill="#79c3e0"/><circle cx="1116" cy="905" r="27" fill="#2794c3"/>
</g>
</g>
<text class="s" x="2122" y="1720" textLength="52" lengthAdjust="spacingAndGlyphs" fill="#e8832a">Treg</text>
<text class="s" x="2325" y="1720" textLength="45" lengthAdjust="spacingAndGlyphs" fill="#3278bd">Teff</text>
</svg>
</body></html>
